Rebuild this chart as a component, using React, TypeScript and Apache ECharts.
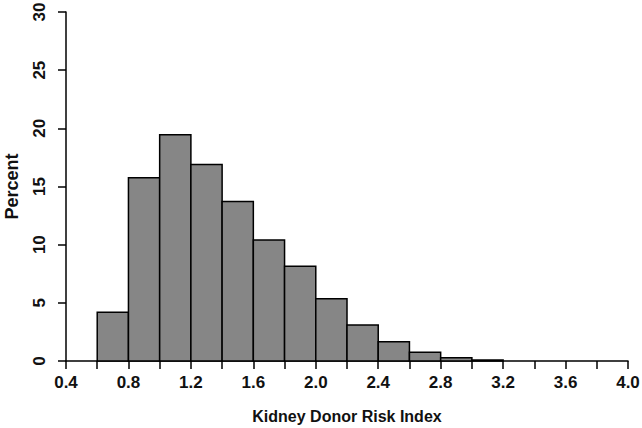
import React, { useEffect, useRef } from "react";
import * as echarts from "echarts";

const binStarts = [0.6, 0.8, 1.0, 1.2, 1.4, 1.6, 1.8, 2.0, 2.2, 2.4, 2.6, 2.8, 3.0];
const binEnds = [0.8, 1.0, 1.2, 1.4, 1.6, 1.8, 2.0, 2.2, 2.4, 2.6, 2.8, 3.0, 3.2];
const percents = [4.2, 15.75, 19.45, 16.9, 13.7, 10.4, 8.15, 5.35, 3.1, 1.65, 0.75, 0.28, 0.08];
const xTitle = "Kidney Donor Risk Index";
const yTitle = "Percent";

export default function App() {
  const ref = useRef<HTMLDivElement>(null);
  useEffect(() => {
    if (!ref.current) return;
    const chart = echarts.init(ref.current, null, { renderer: "svg" });
    const font = "'Liberation Sans', Arial, sans-serif";
    const data = binStarts.map((s, i) => [s, binEnds[i], percents[i]]);
    chart.setOption({
      animation: false,
      grid: { left: 66, right: 14, top: 12, bottom: 67, containLabel: false, outerBoundsMode: "none" },
      xAxis: {
        type: "value",
        min: 0.4,
        max: 4.0,
        interval: 0.2,
        name: xTitle,
        nameLocation: "middle",
        nameGap: 47,
        nameTextStyle: { fontFamily: font, fontSize: 16, fontWeight: "bold", color: "#111" },
        axisLine: { show: true, lineStyle: { color: "#000", width: 1.5 } },
        axisTick: { show: true, length: 8, lineStyle: { color: "#000", width: 1.5 } },
        axisLabel: {
          fontFamily: font,
          fontSize: 17,
          fontWeight: "bold",
          color: "#111",
          margin: 13,
          showMinLabel: true,
          showMaxLabel: true,
          formatter: (v: number) => (Math.round(v * 10) % 4 === 0 ? v.toFixed(1) : ""),
        },
        splitLine: { show: false },
      },
      yAxis: {
        type: "value",
        min: 0,
        max: 30,
        interval: 5,
        name: yTitle,
        nameLocation: "middle",
        nameGap: 45,
        nameRotate: 90,
        nameTextStyle: { fontFamily: font, fontSize: 18, fontWeight: "bold", color: "#111" },
        axisLine: { show: true, lineStyle: { color: "#000", width: 1.5 } },
        axisTick: { show: true, length: 8, lineStyle: { color: "#000", width: 1.5 } },
        axisLabel: { fontFamily: font, fontSize: 17, fontWeight: "bold", color: "#111", rotate: 90, margin: 18 },
        splitLine: { show: false },
      },
      series: [
        {
          type: "custom",
          data,
          renderItem: (params: any, api: any) => {
            const p0 = api.coord([api.value(0), api.value(2)]);
            const p1 = api.coord([api.value(1), 0]);
            return {
              type: "rect",
              shape: { x: p0[0], y: p0[1], width: p1[0] - p0[0], height: p1[1] - p0[1] },
              style: { fill: "#868686", stroke: "#000", lineWidth: 1.5 },
            };
          },
        },
      ],
    });
    return () => chart.dispose();
  }, []);
  return <div ref={ref} style={{ width: 642, height: 428, position: "absolute", left: 0, top: 0 }} />;
}
